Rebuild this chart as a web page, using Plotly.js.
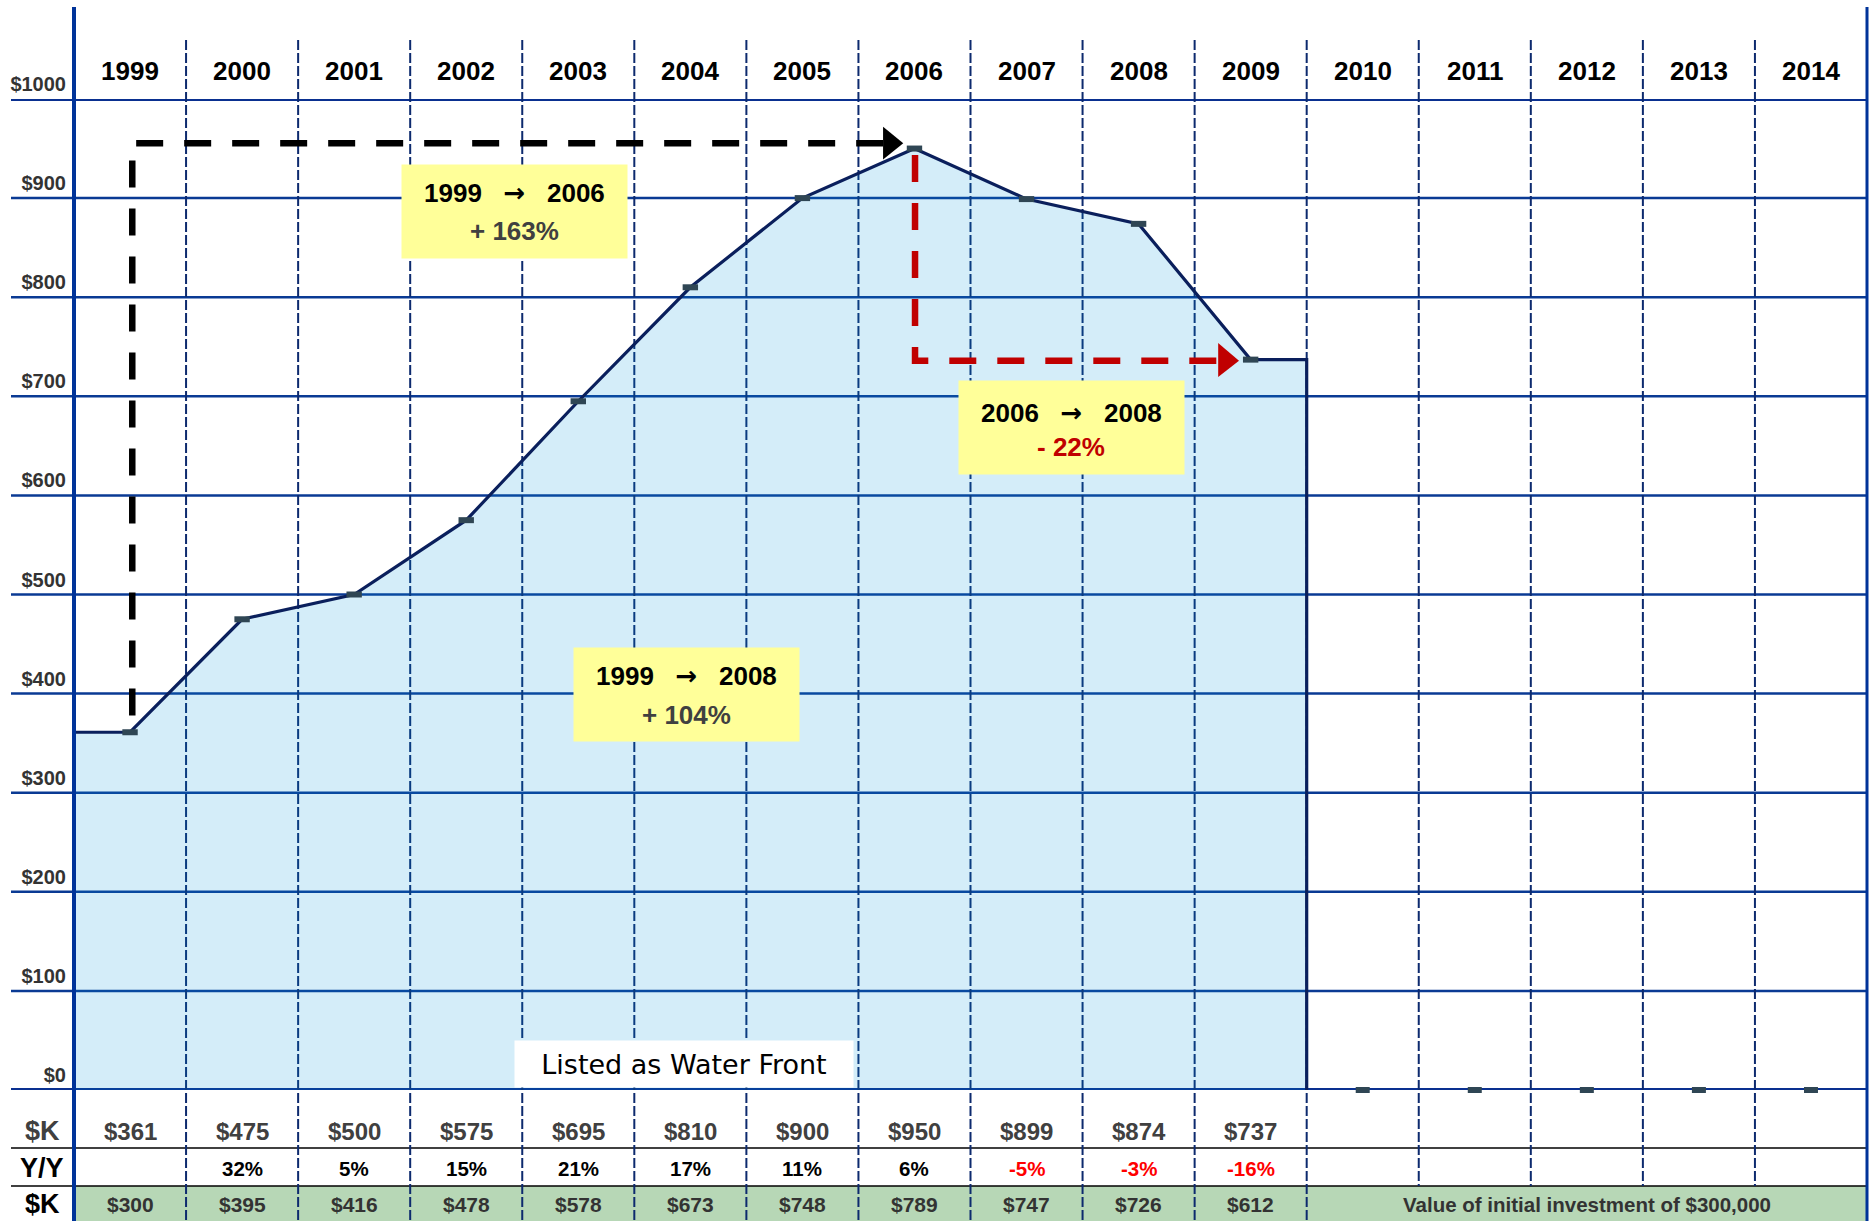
<!DOCTYPE html>
<html>
<head>
<meta charset="utf-8">
<script src="https://cdn.plot.ly/plotly-3.0.1.min.js"></script>
<style>html,body{margin:0;padding:0;background:#fff;}#chart{width:1875px;height:1221px;}</style>
</head>
<body>
<div id="chart"></div>
<script>
// ---- data ----
const years = [1999,2000,2001,2002,2003,2004,2005,2006,2007,2008,2009,2010,2011,2012,2013,2014];
const dataYears = [1999,2000,2001,2002,2003,2004,2005,2006,2007,2008,2009];
const priceK = [361,475,500,575,695,810,900,950,899,874,737];
const yoyPct = [null,32,5,15,21,17,11,6,-5,-3,-16];
const investK = [300,395,416,478,578,673,748,789,747,726,612];
const emptyYears = [2010,2011,2012,2013,2014];
const emptyK = [0,0,0,0,0];
const yTicks = [0,100,200,300,400,500,600,700,800,900,1000];
const rowLabels = ['$K','Y/Y','$K'];
const investNote = 'Value of initial investment of $300,000';
const listedNote = 'Listed as Water Front';
const boxes = [
  {from:'1999', to:'2006', change:'+ 163%', neg:false},
  {from:'2006', to:'2008', change:'- 22%', neg:true},
  {from:'1999', to:'2008', change:'+ 104%', neg:false}
];

// ---- styling ----
const FONT = 'Liberation Sans, Arial, sans-serif';
const NAVY = '#0a3a94';
const DASHNAVY = '#0d2a6e';
const half = 0.5;
const first = dataYears[0], last = dataYears[dataYears.length-1];

// area + line trace (extends to column edges)
const areaX = [first - half].concat(dataYears, [last + half, last + half]);
const areaY = [priceK[0]].concat(priceK, [priceK[priceK.length-1], 0]);

const traces = [
  {
    x: areaX, y: areaY, type: 'scatter', mode: 'lines',
    line: {color: '#0a1f5c', width: 3.2},
    fill: 'tozeroy', fillcolor: 'rgba(0,150,220,0.17)',
    hoverinfo: 'skip', showlegend: false
  },
  {
    x: dataYears, y: priceK, type: 'scatter', mode: 'markers',
    marker: {symbol: 'line-ew', size: 11, line: {color: '#2f4654', width: 6}},
    showlegend: false, cliponaxis: false
  },
  {
    x: emptyYears, y: emptyK, type: 'scatter', mode: 'markers',
    marker: {symbol: 'line-ew', size: 10, line: {color: '#2f4654', width: 6}},
    showlegend: false, cliponaxis: false
  }
];

// paper-coordinate helpers (plot: x 74..1867, y 99..1090)
const W = 1875, H = 1221, L = 74, R = 8, T = 99, B = 131;
const pw = W - L - R, ph = H - T - B;
const px = p => (p - L) / pw;
const py = p => (H - B - p) / ph;

const shapes = [];
// green row
shapes.push({type:'rect', xref:'paper', yref:'paper', x0:0, x1:1, y0:py(1221), y1:py(1186),
  fillcolor:'#b7d7b6', line:{width:0}, layer:'below'});
// horizontal gridlines
yTicks.forEach(v => {
  const thick = (v === 0 || v === 1000);
  shapes.push({type:'line', xref:'paper', yref:'y', x0:px(11), x1:1, y0:v, y1:v,
    line:{color: thick ? '#0a3090' : NAVY, width: thick ? 4 : 2.5}, layer:'below'});
});
// table separators
[1148, 1186].forEach(p => {
  shapes.push({type:'line', xref:'paper', yref:'paper', x0:px(11), x1:1, y0:py(p), y1:py(p),
    line:{color:'#000', width:1.5}, layer:'below'});
});
// vertical dashed column boundaries
for (let i = 0; i < years.length - 1; i++) {
  const b = years[i] + half;
  const bottom = years[i] <= last ? py(1221) : py(1186);
  shapes.push({type:'line', xref:'x', yref:'paper', x0:b, x1:b, y0:py(40), y1:bottom,
    line:{color:DASHNAVY, width:2, dash:'10px,3px'}, layer:'below'});
}
// left & right frame lines
shapes.push({type:'line', xref:'paper', yref:'paper', x0:0, x1:0, y0:py(1221), y1:py(7),
  line:{color:'#003399', width:4}, layer:'above'});
shapes.push({type:'line', xref:'paper', yref:'paper', x0:1, x1:1, y0:py(1221), y1:py(7),
  line:{color:'#003399', width:3}, layer:'above'});
// black dashed arrow 1999 -> 2006
shapes.push({type:'path', xref:'x', yref:'y', layer:'above',
  path:'M 1999.02,378 L 1999.02,955.3 L 2005.72,955.3',
  line:{color:'#000', width:6.5, dash:'27px,21px'}});
shapes.push({type:'path', xref:'x', yref:'y', layer:'above',
  path:'M 2005.72,972 L 2005.90,955.3 L 2005.72,939 Z',
  fillcolor:'#000', line:{width:0}});
// red dashed arrow 2006 -> 2009
shapes.push({type:'path', xref:'x', yref:'y', layer:'above',
  path:'M 2006.005,943.5 L 2006.005,735.9 L 2008.71,735.9',
  line:{color:'#c00000', width:6.5, dash:'27px,21px'}});
shapes.push({type:'path', xref:'x', yref:'y', layer:'above',
  path:'M 2008.71,753.8 L 2008.896,735.9 L 2008.71,719.5 Z',
  fillcolor:'#c00000', line:{width:0}});

const annotations = [];
const C = {xanchor:'center', yanchor:'middle', showarrow:false};
// header years
years.forEach(y => annotations.push(Object.assign({x:y, xref:'x', y:py(71), yref:'paper',
  text:'<b>'+y+'</b>', font:{family:FONT, size:26, color:'#000'}}, C)));
// row labels
const rowY = [py(1131), py(1168), py(1204)];
const rowColors = ['#404040', '#000', '#000'];
rowLabels.forEach((t,i) => annotations.push(Object.assign({x:px(42), xref:'paper', y:rowY[i], yref:'paper',
  text:'<b>'+t+'</b>', font:{family:FONT, size:27, color:rowColors[i]}}, C)));
// table values
dataYears.forEach((y,i) => {
  annotations.push(Object.assign({x:y, xref:'x', y:rowY[0], yref:'paper', text:'<b>$'+priceK[i]+'</b>',
    font:{family:FONT, size:24, color:'#404040'}}, C));
  if (yoyPct[i] !== null) annotations.push(Object.assign({x:y, xref:'x', y:rowY[1], yref:'paper',
    text:'<b>'+yoyPct[i]+'%</b>',
    font:{family:FONT, size:20.5, color: yoyPct[i] < 0 ? '#ff0000' : '#000'}}, C));
  annotations.push(Object.assign({x:y, xref:'x', y:rowY[2], yref:'paper', text:'<b>$'+investK[i]+'</b>',
    font:{family:FONT, size:21, color:'#333'}}, C));
});
annotations.push(Object.assign({x:(emptyYears[0]+emptyYears[emptyYears.length-1])/2, xref:'x', y:rowY[2], yref:'paper',
  text:'<b>'+investNote+'</b>', font:{family:FONT, size:20.5, color:'#333'}}, C));
// listed as water front
annotations.push(Object.assign({x:2003.944, xref:'x', y:py(1064), yref:'paper', text:listedNote,
  bgcolor:'#fff', width:338, height:46, borderpad:0,
  font:{family:'DejaVu Sans, Verdana, sans-serif', size:27, color:'#000'}}, C));
// yellow boxes: background box + two text lines (pixel offsets from box centre)
const boxPos = [[2002.431, 886.5], [2007.401, 668.5], [2003.966, 399.1]];
const lineOff = [[-18, 20], [-15, 19], [-18, 21]];
boxes.forEach((b,i) => {
  const nb = '\u00a0\u00a0\u00a0';
  annotations.push(Object.assign({x:boxPos[i][0], xref:'x', y:boxPos[i][1], yref:'y',
    text:' ', bgcolor:'#ffff99', width:225, height:93, borderpad:0,
    font:{family:FONT, size:26, color:'#000'}}, C));
  annotations.push(Object.assign({x:boxPos[i][0], xref:'x', y:boxPos[i][1], yref:'y', yshift:-lineOff[i][0],
    text:'<b>'+b.from+nb+'<span style="font-family:DejaVu Sans">\u2192</span>'+nb+b.to+'</b>',
    font:{family:FONT, size:26, color:'#000'}}, C));
  annotations.push(Object.assign({x:boxPos[i][0], xref:'x', y:boxPos[i][1], yref:'y', yshift:-lineOff[i][1],
    text:'<b>'+b.change+'</b>',
    font:{family:FONT, size:26, color: b.neg ? '#c00000' : '#404040'}}, C));
});

const layout = {
  width: W, height: H,
  margin: {l:L, r:R, t:T, b:B, pad:0},
  paper_bgcolor: '#fff', plot_bgcolor: 'rgba(0,0,0,0)',
  showlegend: false,
  xaxis: {range:[first - half, years[years.length-1] + half], visible:false, fixedrange:true},
  yaxis: {range:[0,1000], tickvals:yTicks, ticktext:yTicks.map(v => '$'+v),
    showgrid:false, zeroline:false, showline:false, ticks:'',
    tickfont:{family:FONT, size:20, color:'#333', weight:'bold'},
    ticklabelshift:-15, ticklabelstandoff:7, fixedrange:true},
  shapes: shapes,
  annotations: annotations
};

Plotly.newPlot('chart', traces, layout, {displayModeBar:false, staticPlot:true});
</script>
</body>
</html>
